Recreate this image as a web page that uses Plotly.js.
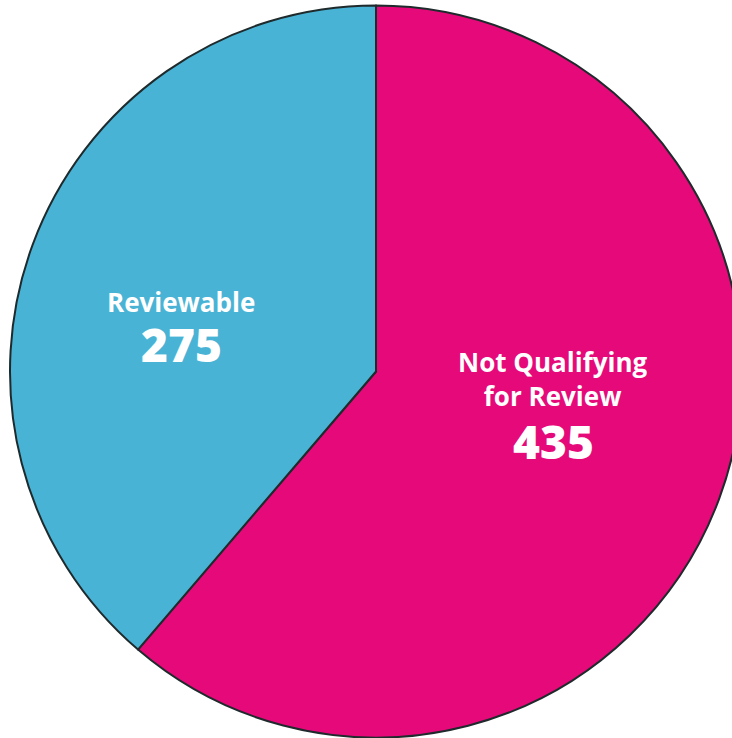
<!DOCTYPE html>
<html>
<head>
<meta charset="utf-8">
<script src="https://cdn.plot.ly/plotly-3.0.1.min.js"></script>
<style>
  html, body { margin: 0; padding: 0; background: #fff; overflow: hidden; }
  #chart { width: 752px; height: 738px; }
</style>
</head>
<body>
<div id="chart"></div>
<script>
const labels = ["Not Qualifying<br>for Review", "Reviewable"];
const values = [435, 275];
const colors = ["#E6097A", "#49B3D5"];

// where each slice's caption sits (paper fractions), label line then value line
const labelPos = [[0.742, 0.490], [0.234, 0.595]];
const valuePos = [[0.742, 0.405], [0.234, 0.537]];
const labelBoxH = [62, 30];

const font = "'Open Sans', Lato, sans-serif";

const trace = {
    type: "pie",
    labels: labels,
    values: values,
    sort: false,
    direction: "clockwise",
    rotation: 0,
    marker: { colors: colors, line: { color: "#1f2a2c", width: 2 } },
    textinfo: "none",
    hoverinfo: "none",
    showlegend: false
};

const annotations = [];
labels.forEach((lab, i) => {
    annotations.push({
        xref: "paper", yref: "paper",
        x: labelPos[i][0], y: labelPos[i][1],
        xanchor: "center", yanchor: "middle",
        height: labelBoxH[i], borderpad: 0,
        text: lab, showarrow: false,
        font: { family: font, size: 26, color: "#ffffff", weight: 700 }
    });
    annotations.push({
        xref: "paper", yref: "paper",
        x: valuePos[i][0], y: valuePos[i][1],
        xanchor: "center", yanchor: "middle",
        height: 40, borderpad: 0,
        text: String(values[i]), showarrow: false,
        font: { family: font, size: 46, color: "#ffffff", weight: 800 }
    });
});

const layout = {
    width: 752,
    height: 738,
    margin: { l: 10, r: 10, t: 5, b: 0 },
    paper_bgcolor: "#ffffff",
    showlegend: false,
    annotations: annotations
};

Plotly.newPlot("chart", [trace], layout, { displayModeBar: false, staticPlot: true });
</script>
</body>
</html>
